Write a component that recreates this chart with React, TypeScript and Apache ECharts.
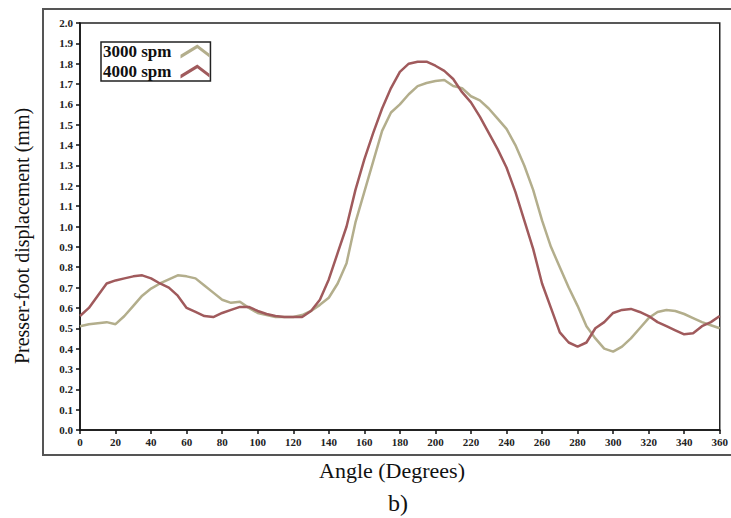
import React, { useEffect, useRef } from "react";
import * as echarts from "echarts";

const angles: number[] = [];
for (let a = 0; a <= 360; a += 5) angles.push(a);

const spm3000 = [
  0.51, 0.52, 0.525, 0.53, 0.52, 0.56, 0.61, 0.66, 0.695, 0.72, 0.74, 0.76, 0.755,
  0.745, 0.71, 0.675, 0.64, 0.625, 0.63, 0.60, 0.575, 0.565, 0.555, 0.555, 0.555,
  0.565, 0.585, 0.615, 0.65, 0.72, 0.82, 1.02, 1.17, 1.32, 1.47, 1.56, 1.60, 1.65,
  1.69, 1.705, 1.715, 1.72, 1.69, 1.68, 1.64, 1.62, 1.58, 1.53, 1.48, 1.40, 1.30,
  1.18, 1.03, 0.90, 0.80, 0.70, 0.61, 0.51, 0.45, 0.40, 0.385, 0.41, 0.45, 0.50,
  0.55, 0.58, 0.59, 0.585, 0.57, 0.55, 0.53, 0.515, 0.50,
];

const spm4000 = [
  0.56, 0.60, 0.66, 0.72, 0.735, 0.745, 0.755, 0.76, 0.745, 0.72, 0.70, 0.66, 0.60,
  0.58, 0.56, 0.555, 0.575, 0.59, 0.605, 0.605, 0.585, 0.57, 0.56, 0.555, 0.555,
  0.555, 0.585, 0.64, 0.74, 0.87, 1.00, 1.18, 1.33, 1.46, 1.58, 1.68, 1.76, 1.80,
  1.81, 1.81, 1.79, 1.765, 1.725, 1.66, 1.61, 1.54, 1.46, 1.38, 1.29, 1.17, 1.03,
  0.89, 0.72, 0.60, 0.48, 0.43, 0.41, 0.43, 0.50, 0.53, 0.575, 0.59, 0.595, 0.58,
  0.56, 0.53, 0.51, 0.49, 0.47, 0.475, 0.51, 0.53, 0.56,
];

const seriesNames = ["3000 spm", "4000 spm"];
const colors = ["#b3ae8c", "#a05a5c"];
const xTitle = "Angle (Degrees)";
const yTitle = "Presser-foot displacement (mm)";
const caption = "b)";

const FONT = "'Liberation Serif', 'DejaVu Serif', serif";
const chevron = "path://M0,11 L18,0 L31,10 L31,14 L18,4 L0,15 Z";

export default function App() {
  const ref = useRef<HTMLDivElement>(null);
  useEffect(() => {
    if (!ref.current) return;
    const chart = echarts.init(ref.current, undefined, { renderer: "svg" });
    const toPairs = (vals: number[]) => angles.map((a, i) => [a, vals[i]]);
    chart.setOption({
      animation: false,
      backgroundColor: "#ffffff",
      grid: {
        left: 80,
        right: 8,
        top: 23,
        bottom: 88,
        show: true,
        borderColor: "#222",
        borderWidth: 1.5,
        backgroundColor: "transparent",
      },
      legend: {
        left: 101,
        top: 42,
        orient: "vertical",
        align: "right",
        data: seriesNames.map((n) => ({ name: n, icon: chevron })),
        itemWidth: 31,
        itemHeight: 14,
        itemGap: 3,
        padding: [1, 1, 1, 2],
        borderColor: "#222",
        borderWidth: 1.5,
        textStyle: {
          fontFamily: FONT,
          fontWeight: "bold",
          fontSize: 17,
          color: "#111",
          padding: [0, 3, 0, 0],
        },
      },
      xAxis: {
        type: "value",
        min: 0,
        max: 360,
        interval: 20,
        axisLine: { show: true, lineStyle: { color: "#111", width: 1.5 } },
        axisTick: { show: true, length: 4, lineStyle: { color: "#111", width: 1.5 } },
        axisLabel: {
          fontFamily: FONT,
          fontSize: 11,
          fontWeight: "bold",
          color: "#222",
          margin: 6,
        },
        splitLine: { show: false },
      },
      yAxis: {
        type: "value",
        min: 0,
        max: 2,
        interval: 0.1,
        axisLine: { show: true, lineStyle: { color: "#111", width: 1.5 } },
        axisTick: { show: true, length: 4, lineStyle: { color: "#111", width: 1.5 } },
        axisLabel: {
          fontFamily: FONT,
          fontSize: 11,
          fontWeight: "bold",
          color: "#222",
          margin: 7,
          formatter: (v: number) => v.toFixed(1),
        },
        splitLine: { show: false },
      },
      graphic: [
        {
          type: "rect",
          shape: { x: 43, y: 9, width: 700, height: 446 },
          style: { fill: "none", stroke: "#555", lineWidth: 2 },
          silent: true,
        },
        {
          type: "text",
          x: 392,
          y: 470,
          style: {
            text: xTitle,
            font: `22px ${FONT}`,
            fill: "#111",
            align: "center",
            verticalAlign: "middle",
          },
        },
        {
          type: "text",
          x: 22,
          y: 236,
          rotation: Math.PI / 2,
          style: {
            text: yTitle,
            font: `20px ${FONT}`,
            fill: "#111",
            align: "center",
            verticalAlign: "middle",
          },
        },
        {
          type: "text",
          x: 398,
          y: 503,
          style: {
            text: caption,
            font: `24px ${FONT}`,
            fill: "#111",
            align: "center",
            verticalAlign: "middle",
          },
        },
      ],
      series: [
        {
          name: seriesNames[0],
          type: "line",
          data: toPairs(spm3000),
          showSymbol: false,
          symbol: "none",
          lineStyle: { color: colors[0], width: 2.5 },
          itemStyle: { color: colors[0] },
        },
        {
          name: seriesNames[1],
          type: "line",
          data: toPairs(spm4000),
          showSymbol: false,
          symbol: "none",
          lineStyle: { color: colors[1], width: 2.5 },
          itemStyle: { color: colors[1] },
        },
      ],
    });
    return () => chart.dispose();
  }, []);
  return (
    <div
      ref={ref}
      style={{ position: "absolute", left: 0, top: 0, width: 731, height: 518 }}
    />
  );
}
